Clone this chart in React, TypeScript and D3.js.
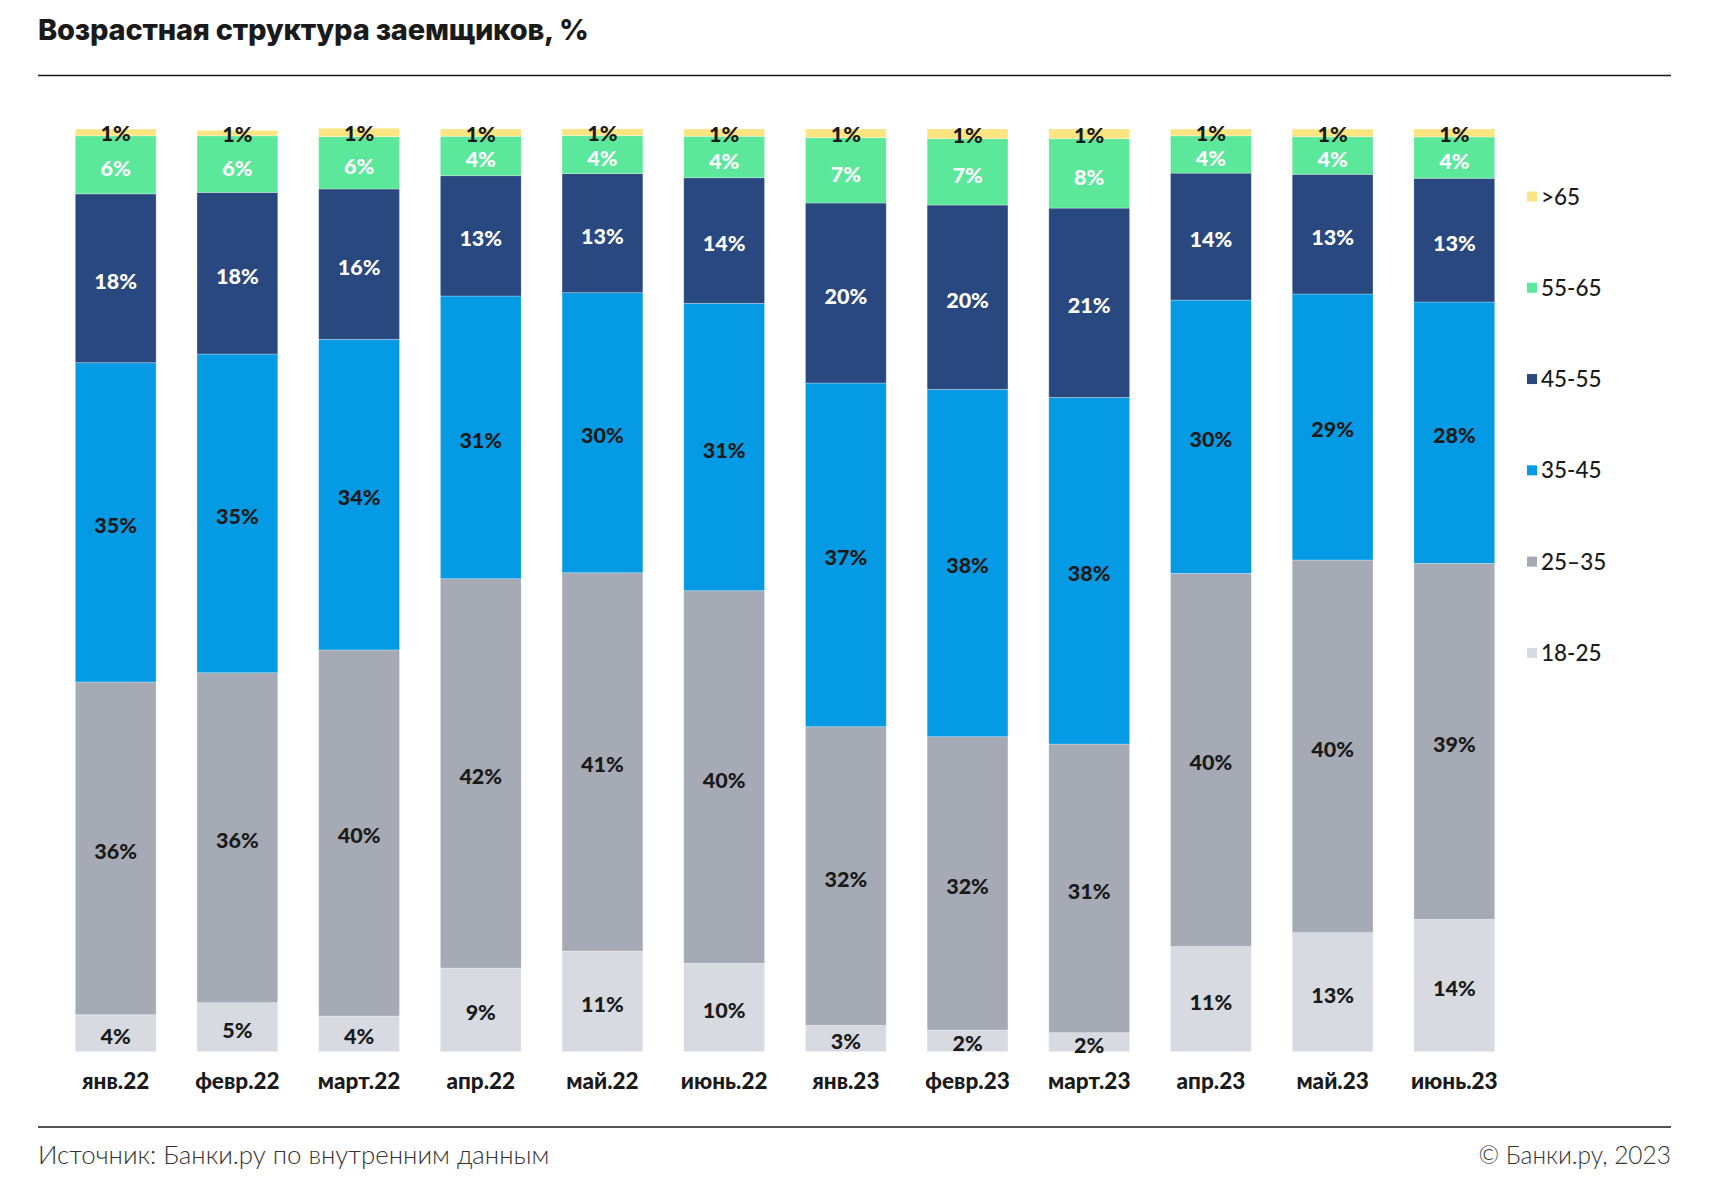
import React from "react";
import * as d3 from "d3";

const categories = ["янв.22", "февр.22", "март.22", "апр.22", "май.22", "июнь.22", "янв.23", "февр.23", "март.23", "апр.23", "май.23", "июнь.23"];
const age18_25 = [4.01, 5.31, 3.87, 9.07, 10.91, 9.58, 2.86, 2.35, 2.06, 11.39, 12.9, 14.35];
const age25_35 = [36.06, 35.76, 39.67, 42.19, 41.0, 40.38, 32.36, 31.79, 31.28, 40.45, 40.39, 38.58];
const age35_45 = [34.6, 34.54, 33.67, 30.64, 30.35, 31.15, 37.25, 37.65, 37.57, 29.62, 28.83, 28.32];
const age45_55 = [18.3, 17.52, 16.29, 13.04, 12.9, 13.61, 19.51, 19.97, 20.52, 13.76, 12.97, 13.41];
const age55_65 = [6.29, 6.13, 5.67, 4.27, 4.12, 4.49, 7.08, 7.19, 7.52, 4.04, 4.07, 4.48];
const age65plus = [0.73, 0.59, 0.91, 0.79, 0.73, 0.79, 0.94, 1.05, 1.05, 0.73, 0.83, 0.87];

const seriesKeys = ["18-25", "25–35", "35-45", "45-55", "55-65", ">65"];
const seriesValues = [age18_25, age25_35, age35_45, age45_55, age55_65, age65plus];
const seriesColors = ["#D8DAE1", "#A6AAB5", "#049BE4", "#29487F", "#5CE89A", "#FCE480"];
const labelColors = ["#1a1a1a", "#1a1a1a", "#1a1a1a", "#ffffff", "#ffffff", "#1a1a1a"];
const labelShift = [10.5, 10.5, 10.5, 10.5, 11.5, 9];
const legendOrder = [">65", "55-65", "45-55", "35-45", "25–35", "18-25"];

const title = "Возрастная структура заемщиков, %";
const source = "Источник: Банки.ру по внутренним данным";
const copyright = "© Банки.ру, 2023";

const W = 1712;
const H = 1200;
const FONT = "Lato, 'Noto Sans', sans-serif";

export default function App() {
  const rows = categories.map((c, i) => {
    const r: any = { cat: c };
    seriesKeys.forEach((k, j) => (r[k] = seriesValues[j][i]));
    return r;
  });
  const stacked = d3.stack<any>().keys(seriesKeys)(rows);

  const x = d3.scaleBand().domain(categories).range([75.3, 1494.7]).paddingInner(0.336).paddingOuter(0);
  const y = d3.scaleLinear().domain([0, 100]).range([1051.7, 129]);

  const legendY = d3.scalePoint().domain(legendOrder).range([196.5, 652.9]);

  return (
    <svg width={W} height={H} style={{ position: "absolute", left: 0, top: 0, display: "block", background: "#fff" }} fontFamily={FONT}>
      <text x={38} y={40} fontSize={29} fontWeight={800} fill="#1a1a1a" fontFamily="Inter, Lato, sans-serif" letterSpacing={-0.2}>{title}</text>
      <line x1={38} x2={1671} y1={75.5} y2={75.5} stroke="#1a1a1a" strokeWidth={1.3} />

      {stacked.map((s, j) => (
        <g key={s.key}>
          {s.map((d, i) => (
            <rect
              key={i}
              x={x(categories[i])}
              y={y(d[1])}
              width={x.bandwidth()}
              height={y(d[0]) - y(d[1])}
              fill={seriesColors[j]}
              stroke="#ffffff"
              strokeOpacity={0.35}
              strokeWidth={0.8}
            />
          ))}
        </g>
      ))}
      {stacked.map((s, j) => (
        <g key={"l" + s.key}>
          {s.map((d, i) => (
            <text
              key={i}
              x={(x(categories[i]) as number) + x.bandwidth() / 2}
              y={(y(d[0]) + y(d[1])) / 2 + labelShift[j]}
              textAnchor="middle"
              fontSize={21.5}
              fontWeight={900}
              fill={labelColors[j]}
            >
              {Math.round(d[1] - d[0])}%
            </text>
          ))}
        </g>
      ))}

      {categories.map((c) => (
        <text key={c} x={(x(c) as number) + x.bandwidth() / 2} y={1089} textAnchor="middle" fontSize={22.5} fontWeight={900} fill="#1a1a1a">
          {c}
        </text>
      ))}

      {legendOrder.map((k) => {
        const j = seriesKeys.indexOf(k);
        const cy = legendY(k) as number;
        return (
          <g key={k}>
            <rect x={1527} y={cy - 5} width={10} height={10} fill={seriesColors[j]} />
            <text x={1541} y={cy + 8} fontSize={22.5} fontWeight={500} fill="#1a1a1a">{k}</text>
          </g>
        );
      })}

      <line x1={38} x2={1671} y1={1127} y2={1127} stroke="#1a1a1a" strokeWidth={1.3} />
      <text x={38} y={1164} fontSize={25.8} fontWeight={300} fill="#333333">{source}</text>
      <text x={1671} y={1164} textAnchor="end" fontSize={24.5} fontWeight={300} fill="#333333">{copyright}</text>
    </svg>
  );
}
